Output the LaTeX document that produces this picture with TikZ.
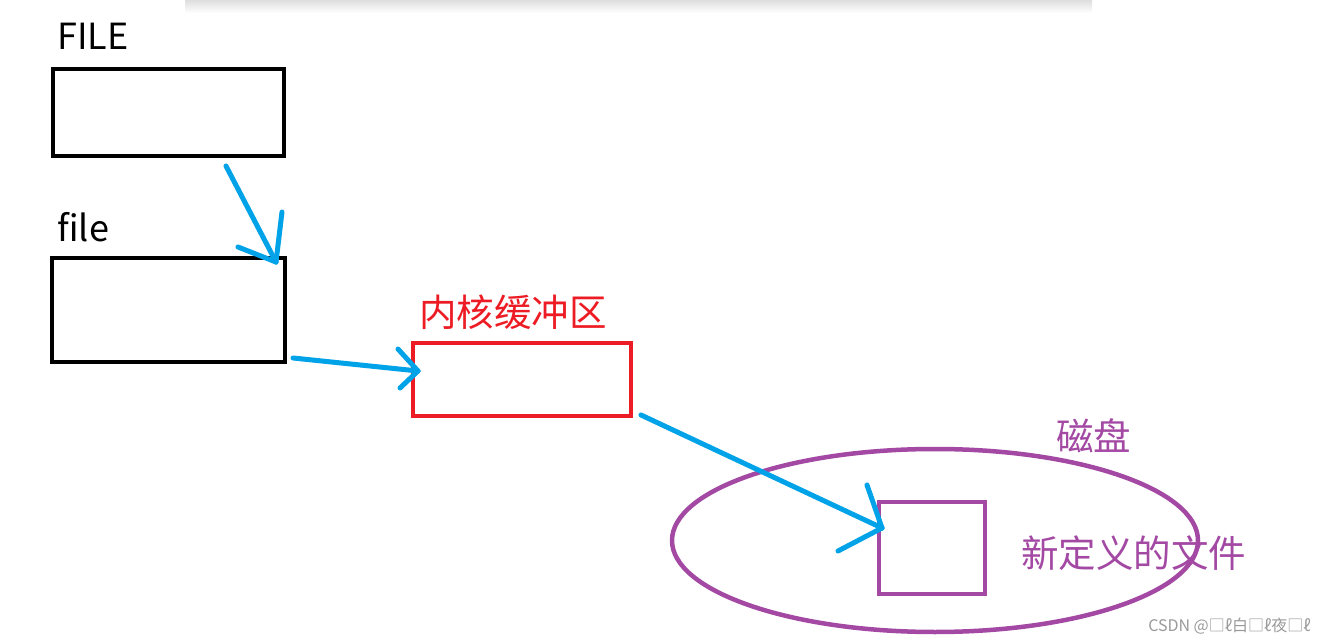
\documentclass[tikz,border=0pt]{standalone}
\usepackage{fontspec}
\setmainfont{Noto Sans CJK SC}
\usetikzlibrary{shapes.geometric}
\definecolor{arrowblue}{HTML}{00A2E8}
\definecolor{bufred}{HTML}{ED1C24}
\definecolor{diskpurple}{HTML}{A349A4}
\definecolor{markgray}{HTML}{9A9A9A}
\begin{document}
\begin{tikzpicture}[x=1pt,y=-1pt,
  box/.style={draw, line width=4.5pt, inner sep=0pt, rectangle},
  lbl/.style={inner sep=0pt, anchor=west, font=\fontsize{36}{40}\selectfont},
  cjk/.style={inner sep=0pt, anchor=west, font=\fontsize{37.5}{42}\selectfont},
  stroke/.style={draw=arrowblue, line width=5pt, line cap=round}]
\useasboundingbox (0,0) rectangle (1326,644);
\fill[white] (0,0) rectangle (1326,644);
\shade[top color=black!13, bottom color=white] (185,0) rectangle (1092,13);
% boxes
\node[box, draw=black, minimum width=231pt, minimum height=87pt] (FILEbox) at (168.5,112.5) {};
\node[box, draw=black, minimum width=233pt, minimum height=104pt] (filebox) at (168.5,310) {};
\node[box, draw=bufred, minimum width=218pt, minimum height=73pt] (buf) at (522,379.5) {};
\node[ellipse, draw=diskpurple, line width=4.5pt, inner sep=0pt, minimum width=526pt, minimum height=183pt] (disk) at (935,540.5) {};
\node[box, draw=diskpurple, minimum width=106pt, minimum height=92pt] (newfile) at (932,548) {};
% labels
\node[lbl] (tFILE) at (57,36) {FILE};
\node[lbl] (tfile) at (57,227) {file};
\node[cjk, text=bufred] (tbuf) at (419,312) {内核缓冲区};
\node[cjk, text=diskpurple] (tdisk) at (1056,436) {磁盘};
\node[cjk, text=diskpurple] (tnew) at (1021,553) {新定义的文件};
\node[inner sep=0pt, anchor=east, text=markgray, font=\fontsize{16}{18}\selectfont] (mark) at (1311,626) {CSDN @□ℓ白□ℓ夜□ℓ};
% arrow 1
\coordinate (a1s) at (226,166);
\coordinate (a1e) at (276,262);
\coordinate (a1b) at (282,212);
\coordinate (a1c) at (238,247);
\draw[stroke] (a1s) -- (a1e);
\draw[stroke] (a1b) -- (a1e);
\draw[stroke] (a1c) -- (a1e);
% arrow 2
\coordinate (a2s) at (293,358);
\coordinate (a2e) at (418,371);
\coordinate (a2b) at (398,349);
\coordinate (a2c) at (400,388);
\draw[stroke] (a2s) -- (a2e);
\draw[stroke] (a2b) -- (a2e);
\draw[stroke] (a2c) -- (a2e);
% arrow 3
\coordinate (a3s) at (641,415);
\coordinate (a3e) at (882,528);
\coordinate (a3b) at (867,485);
\coordinate (a3c) at (838,551);
\draw[stroke] (a3s) -- (a3e);
\draw[stroke] (a3b) -- (a3e);
\draw[stroke] (a3c) -- (a3e);
\end{tikzpicture}
\end{document}
